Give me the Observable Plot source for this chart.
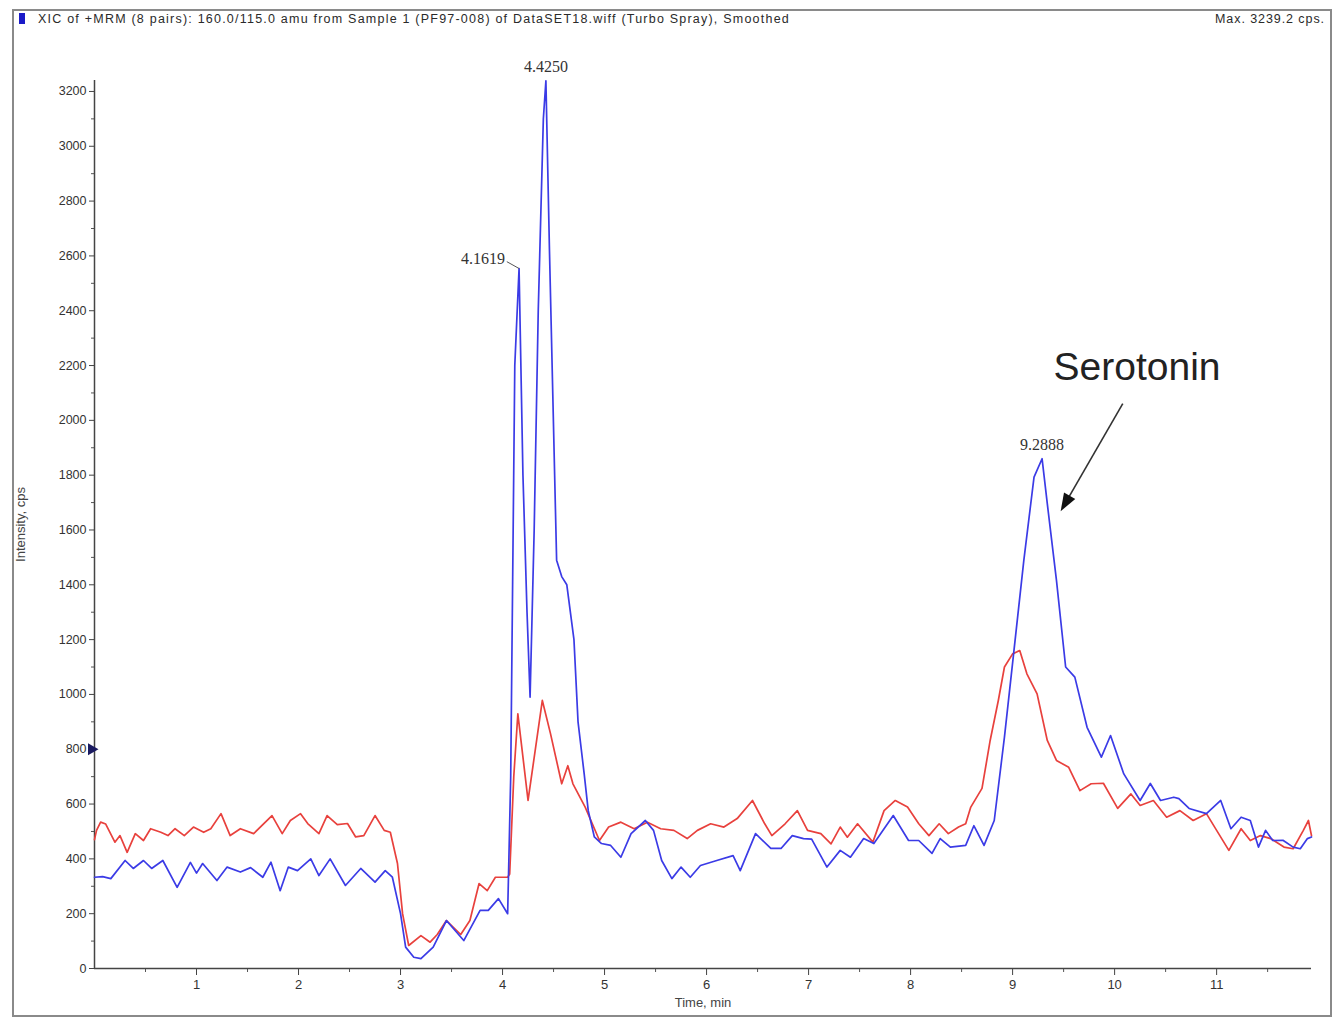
<!DOCTYPE html>
<html>
<head>
<meta charset="utf-8">
<script src="https://cdn.jsdelivr.net/npm/d3@7"></script>
<script src="https://cdn.jsdelivr.net/npm/@observablehq/plot@0.6"></script>
<style>
  html, body { margin: 0; padding: 0; background: #fff; }
  #page { position: relative; width: 1339px; height: 1018px; overflow: hidden; font-family: "Liberation Sans", Arial, sans-serif; }
  #frame { position: absolute; left: 12px; top: 9px; width: 1316px; height: 1004px; border: 2px solid #8a8a8a; box-sizing: content-box; }
  #swatch { position: absolute; left: 19px; top: 13px; width: 6px; height: 11px; background: #1a1ac8; }
  #hdr { position: absolute; left: 38px; top: 12px; font-size: 12.5px; color: #2a2a2a; white-space: nowrap; }
  #hdrR { position: absolute; right: 14px; top: 12px; font-size: 12.5px; color: #2a2a2a; white-space: nowrap; }
  #chart { position: absolute; left: 0; top: 0; }
</style>
</head>
<body>
<div id="page">
  <div id="frame"></div>
  <div id="swatch"></div>
  <div id="hdr"></div>
  <div id="hdrR"></div>
  <div id="chart"></div>
</div>
<script>
// ---- text ----
const headerText = "XIC of +MRM (8 pairs): 160.0/115.0 amu from Sample 1 (PF97-008) of DataSET18.wiff (Turbo Spray), Smoothed";
const maxText = "Max. 3239.2 cps.";
const xLabel = "Time, min";
const yLabel = "Intensity, cps";

// ---- ticks ----
const xTicks = [1, 2, 3, 4, 5, 6, 7, 8, 9, 10, 11];
const xMinorTicks = [0.5, 1.5, 2.5, 3.5, 4.5, 5.5, 6.5, 7.5, 8.5, 9.5, 10.5, 11.5];
const yTicks = [0, 200, 400, 600, 800, 1000, 1200, 1400, 1600, 1800, 2000, 2200, 2400, 2600, 2800, 3000, 3200];
const yMinorTicks = [100, 300, 500, 700, 900, 1100, 1300, 1500, 1700, 1900, 2100, 2300, 2500, 2700, 2900, 3100];

// ---- blue trace (time, intensity) ----
const blueTrace = [
  [0.00,333],[0.08,335],[0.16,328],[0.30,394],[0.38,365],[0.48,394],[0.56,365],[0.67,394],[0.81,296],
  [0.94,387],[1.00,348],[1.06,383],[1.20,321],[1.30,370],[1.43,352],[1.53,368],[1.65,333],[1.73,388],
  [1.82,284],[1.90,370],[1.99,357],[2.12,400],[2.20,339],[2.31,400],[2.46,303],[2.61,365],[2.75,315],
  [2.85,357],[2.92,333],[3.00,200],[3.05,78],[3.13,41],[3.20,36],[3.32,78],[3.45,175],[3.62,102],
  [3.78,212],[3.86,212],[3.96,255],[4.05,200],[4.08,700],[4.12,2200],[4.1619,2554],[4.20,1800],
  [4.24,1300],[4.27,990],[4.31,1600],[4.35,2400],[4.40,3100],[4.425,3239],[4.46,2620],[4.53,1490],
  [4.58,1430],[4.63,1400],[4.70,1200],[4.74,900],[4.80,711],[4.84,576],[4.90,480],[4.97,456],
  [5.06,449],[5.16,406],[5.26,492],[5.40,540],[5.48,504],[5.56,394],[5.66,328],[5.75,370],[5.84,333],
  [5.94,376],[6.10,394],[6.26,412],[6.33,357],[6.48,492],[6.63,438],[6.73,438],[6.84,485],[6.95,474],
  [7.03,472],[7.18,370],[7.31,431],[7.41,406],[7.54,474],[7.64,456],[7.83,558],[7.98,467],[8.08,467],
  [8.21,420],[8.29,474],[8.39,443],[8.54,449],[8.62,521],[8.72,449],[8.82,540],[8.92,844],[9.01,1149],
  [9.11,1489],[9.21,1793],[9.2888,1860],[9.34,1696],[9.43,1416],[9.52,1100],[9.61,1063],[9.73,880],
  [9.87,771],[9.96,850],[10.09,710],[10.25,613],[10.35,675],[10.45,613],[10.58,625],[10.63,620],
  [10.73,584],[10.90,565],[11.04,613],[11.14,510],[11.24,552],[11.33,540],[11.41,443],[11.48,504],
  [11.55,467],[11.65,468],[11.75,443],[11.82,437],[11.89,474],[11.93,480]
];

// ---- red trace (time, intensity) ----
const redTrace = [
  [0.00,470],[0.02,504],[0.06,534],[0.11,527],[0.20,461],[0.25,485],[0.32,424],[0.40,492],[0.48,467],
  [0.55,510],[0.65,497],[0.72,485],[0.79,510],[0.88,485],[0.97,516],[1.07,497],[1.14,510],[1.24,565],
  [1.33,485],[1.43,510],[1.56,492],[1.74,558],[1.84,492],[1.92,540],[2.02,565],[2.09,529],[2.20,492],
  [2.28,558],[2.38,525],[2.48,529],[2.56,480],[2.64,485],[2.75,558],[2.84,504],[2.90,497],[2.97,383],
  [3.02,200],[3.08,84],[3.20,120],[3.29,96],[3.36,124],[3.45,175],[3.59,124],[3.68,175],[3.77,310],
  [3.85,284],[3.93,333],[4.05,333],[4.07,345],[4.11,700],[4.15,929],[4.25,613],[4.39,978],[4.47,857],
  [4.58,674],[4.64,740],[4.69,674],[4.81,589],[4.95,467],[5.04,516],[5.16,534],[5.29,510],[5.42,534],
  [5.55,510],[5.68,504],[5.81,474],[5.91,504],[6.04,528],[6.17,516],[6.30,547],[6.45,613],[6.57,528],
  [6.64,485],[6.77,528],[6.89,576],[6.99,504],[7.12,492],[7.22,455],[7.31,516],[7.38,479],[7.48,528],
  [7.63,461],[7.74,576],[7.85,613],[7.97,589],[8.08,528],[8.18,485],[8.28,528],[8.37,492],[8.47,516],
  [8.54,528],[8.59,589],[8.70,657],[8.78,832],[8.86,978],[8.92,1100],[9.00,1148],[9.07,1160],
  [9.14,1075],[9.24,1002],[9.34,832],[9.43,759],[9.55,734],[9.66,649],[9.77,674],[9.89,676],
  [10.03,584],[10.16,637],[10.25,595],[10.38,613],[10.51,552],[10.64,576],[10.77,540],[10.90,565],
  [11.00,504],[11.12,431],[11.24,510],[11.33,467],[11.43,485],[11.53,474],[11.66,443],[11.75,437],
  [11.85,504],[11.90,540],[11.93,485]
];

// ---- peak annotations ----
const peakTimes = [4.1619, 4.4250, 9.2888];
const peakValues = [2554, 3239, 1860];
const peakLabels = ["4.1619", "4.4250", "9.2888"];

// ---- callout ----
const calloutText = ["Serotonin"];
const calloutAt = [[10.22, 2193]];
const arrowFrom = [10.08, 2061];
const arrowTo = [9.52, 1700];
const thresholdValue = [800];

// ---- build ----
const blue = blueTrace.map(([t, v]) => ({t, v}));
const red = redTrace.map(([t, v]) => ({t, v}));
const peaks = peakTimes.map((t, i) => ({t, v: peakValues[i], label: peakLabels[i]}));

const BLUE = "#3b3be6";
const RED = "#e8413d";
const serif = "'Liberation Serif', 'Times New Roman', serif";

// filled arrow-head symbol (points up before rotation)
const headSymbol = {
  draw(context) {
    context.moveTo(0, -10);
    context.lineTo(-6.5, 8);
    context.lineTo(6.5, 8);
    context.closePath();
  }
};
const arrowAngle = 210; // clockwise from up, in screen space

const chart = Plot.plot({
  width: 1339,
  height: 1018,
  marginLeft: 94,
  marginRight: 28,
  marginTop: 80,
  marginBottom: 50,
  style: {fontFamily: "'Liberation Sans', Arial, sans-serif", background: "transparent", color: "#333"},
  x: {domain: [0, 11.93], label: null},
  y: {domain: [0, 3240], label: null},
  marks: [
    Plot.axisX({ticks: xMinorTicks, tickSize: 4, text: null, anchor: "bottom", stroke: "#555", label: null}),
    Plot.axisX({ticks: xTicks, tickSize: 7, tickPadding: 4, fontSize: 13, anchor: "bottom", label: null, stroke: "#444", fill: "#333", tickFormat: d => String(d)}),
    Plot.axisY({ticks: yMinorTicks, tickSize: 3, text: null, anchor: "left", stroke: "#555", label: null}),
    Plot.axisY({ticks: yTicks, tickSize: 5, tickPadding: 3, fontSize: 12.5, anchor: "left", label: null, stroke: "#444", fill: "#333", tickFormat: d => String(d)}),
    Plot.ruleY([0], {stroke: "#444", strokeWidth: 1.5}),
    Plot.ruleX([0], {stroke: "#444", strokeWidth: 1.5}),
    Plot.text([yLabel], {frameAnchor: "left", textAnchor: "middle", dx: -74, rotate: -90, fontSize: 13, fill: "#444"}),
    Plot.text([xLabel], {frameAnchor: "bottom", textAnchor: "middle", dy: 38, fontSize: 13, fill: "#444"}),
    Plot.dot(thresholdValue, {x: () => 0, y: d => d, symbol: "triangle", rotate: 90, r: 4.5, fill: "#1a1a60", stroke: "none", dx: -3}),
    Plot.line(red, {x: "t", y: "v", stroke: RED, strokeWidth: 1.7}),
    Plot.line(blue, {x: "t", y: "v", stroke: BLUE, strokeWidth: 1.7}),
    Plot.text(peaks.filter(d => d.label !== "4.1619"), {x: "t", y: "v", text: "label", dy: -14, fontSize: 16, fontFamily: serif, fill: "#333"}),
    Plot.text(peaks.filter(d => d.label === "4.1619"), {x: "t", y: "v", text: "label", dx: -14, dy: -10, textAnchor: "end", fontSize: 16, fontFamily: serif, fill: "#333"}),
    Plot.link(peaks.filter(d => d.label === "4.1619"), {x1: d => d.t - 0.12, y1: d => d.v + 25, x2: "t", y2: "v", stroke: "#555", strokeWidth: 1}),
    Plot.text(calloutAt, {x: d => d[0], y: d => d[1], text: (d, i) => calloutText[i], fontSize: 39, fill: "#222"}),
    Plot.link([0], {x1: () => arrowFrom[0], y1: () => arrowFrom[1], x2: () => arrowTo[0], y2: () => arrowTo[1], stroke: "#333", strokeWidth: 1.6}),
    Plot.dot([0], {x: () => arrowTo[0], y: () => arrowTo[1], symbol: headSymbol, rotate: arrowAngle, fill: "#111", stroke: "none"})
  ]
});
document.getElementById("chart").appendChild(chart);

// header texts, stretched to the reference widths
function fitText(el, text, targetWidth) {
  el.textContent = text;
  const w = el.getBoundingClientRect().width;
  const ls = (targetWidth - w) / text.length;
  el.style.letterSpacing = ls.toFixed(3) + "px";
}
fitText(document.getElementById("hdr"), headerText, 752);
fitText(document.getElementById("hdrR"), maxText, 110);
</script>
</body>
</html>
